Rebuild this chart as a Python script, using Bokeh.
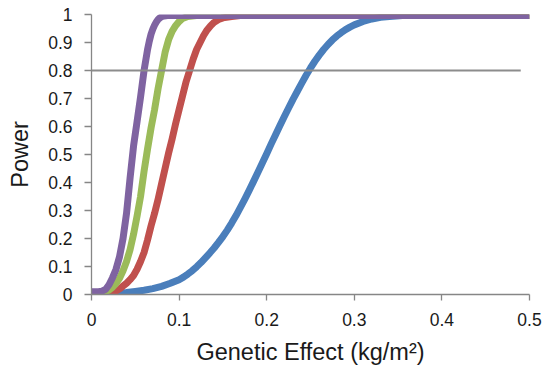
from bokeh.plotting import figure
from bokeh.models import Range1d, FixedTicker
from bokeh.embed import file_html
from bokeh.resources import INLINE

# ---- data ----
blue_x = [0.0, 0.020, 0.030, 0.040, 0.050, 0.060, 0.070, 0.080, 0.090, 0.100, 0.105, 0.110,
          0.115, 0.120, 0.125, 0.130, 0.135, 0.140, 0.145, 0.150, 0.155, 0.160, 0.165, 0.170,
          0.175, 0.180, 0.185, 0.190, 0.195, 0.200, 0.205, 0.210, 0.215, 0.220, 0.225, 0.230,
          0.235, 0.240, 0.245, 0.250, 0.255, 0.260, 0.265, 0.270, 0.275, 0.280, 0.285, 0.290,
          0.295, 0.300, 0.310, 0.320, 0.330, 0.340, 0.355, 0.5]
blue_y = [0.000, 0.000, 0.004, 0.007, 0.011, 0.015, 0.021, 0.029, 0.040, 0.053, 0.062, 0.073,
          0.085, 0.099, 0.114, 0.131, 0.148, 0.166, 0.186, 0.207, 0.230, 0.255, 0.282, 0.311,
          0.341, 0.372, 0.404, 0.437, 0.470, 0.503, 0.537, 0.570, 0.603, 0.635, 0.666, 0.697,
          0.726, 0.755, 0.783, 0.809, 0.833, 0.855, 0.875, 0.893, 0.909, 0.923, 0.935, 0.946,
          0.955, 0.963, 0.975, 0.984, 0.990, 0.993, 0.996, 0.996]

red_x = [0.0, 0.020, 0.024, 0.028, 0.032, 0.036, 0.040, 0.044, 0.048, 0.052, 0.056, 0.060, 0.064,
         0.068, 0.072, 0.076, 0.080, 0.084, 0.088, 0.092, 0.096, 0.100, 0.104, 0.108, 0.112,
         0.116, 0.120, 0.124, 0.128, 0.132, 0.136, 0.140, 0.145, 0.150, 0.160, 0.170, 0.5]
red_y = [0.0, 0.002, 0.006, 0.012, 0.020, 0.030, 0.040, 0.053, 0.068, 0.090, 0.118, 0.150, 0.195,
         0.245, 0.290, 0.340, 0.395, 0.450, 0.505, 0.555, 0.610, 0.660, 0.710, 0.760, 0.800,
         0.840, 0.875, 0.900, 0.925, 0.945, 0.960, 0.972, 0.982, 0.988, 0.993, 0.996, 0.996]

green_x = [0.0, 0.012, 0.016, 0.020, 0.024, 0.028, 0.032, 0.036, 0.040, 0.044, 0.048, 0.052,
           0.056, 0.060, 0.064, 0.068, 0.072, 0.076, 0.080, 0.084, 0.088, 0.092, 0.096, 0.100,
           0.104, 0.110, 0.120, 0.5]
green_y = [0.005, 0.006, 0.010, 0.016, 0.026, 0.040, 0.058, 0.085, 0.118, 0.160, 0.215, 0.280,
           0.350, 0.440, 0.520, 0.595, 0.660, 0.735, 0.800, 0.865, 0.910, 0.940, 0.960, 0.975,
           0.986, 0.993, 0.996, 0.996]

purple_x = [0.0, 0.008, 0.012, 0.016, 0.020, 0.024, 0.028, 0.032, 0.036, 0.040, 0.044, 0.048,
            0.052, 0.056, 0.060, 0.064, 0.066, 0.068, 0.070, 0.072, 0.074, 0.076, 0.078, 0.080,
            0.083, 0.087, 0.5]
purple_y = [0.010, 0.010, 0.012, 0.018, 0.035, 0.060, 0.090, 0.135, 0.200, 0.290, 0.415, 0.530,
            0.617, 0.705, 0.800, 0.875, 0.905, 0.930, 0.948, 0.962, 0.973, 0.982, 0.988, 0.992,
            0.995, 0.996, 0.996]

threshold_x = [0.0, 0.49]
threshold_power = 0.8

x_ticks = [0, 0.1, 0.2, 0.3, 0.4, 0.5]
x_tick_labels = ["0", "0.1", "0.2", "0.3", "0.4", "0.5"]
y_ticks = [0, 0.1, 0.2, 0.3, 0.4, 0.5, 0.6, 0.7, 0.8, 0.9, 1]
y_tick_labels = ["0", "0.1", "0.2", "0.3", "0.4", "0.5", "0.6", "0.7", "0.8", "0.9", "1"]

series = [
    (blue_x, blue_y, "#4A7EBB"),
    (red_x, red_y, "#C0504D"),
    (green_x, green_y, "#9BBB59"),
    (purple_x, purple_y, "#7F63A1"),
]

FONT = "Liberation Sans"

p = figure(width=544, height=373, output_backend="svg", toolbar_location=None,
           x_range=Range1d(0, 0.5), y_range=Range1d(0, 1),
           min_border_left=91, min_border_right=15, min_border_top=14, min_border_bottom=79)
p.outline_line_color = None
p.xgrid.visible = False
p.ygrid.visible = False
p.background_fill_color = "white"
p.border_fill_color = "white"

for xs, ys, col in series:
    p.line(xs, ys, line_color=col, line_width=7, line_join="round")

p.line(threshold_x, [threshold_power] * len(threshold_x), line_color="#8C8C8C", line_width=1.8)

p.xaxis.ticker = FixedTicker(ticks=x_ticks)
p.yaxis.ticker = FixedTicker(ticks=y_ticks)
p.xaxis.major_label_overrides = {t: l for t, l in zip(x_ticks, x_tick_labels)}
p.yaxis.major_label_overrides = {t: l for t, l in zip(y_ticks, y_tick_labels)}

for ax in (p.xaxis, p.yaxis):
    ax.axis_line_color = "#868686"
    ax.axis_line_width = 1.3
    ax.major_tick_line_color = "#868686"
    ax.major_tick_line_width = 1.3
    ax.major_tick_in = 0
    ax.minor_tick_line_color = None
    ax.major_label_text_font = FONT
    ax.major_label_text_font_size = "17.5px"
    ax.major_label_text_color = "#1A1A1A"
    ax.axis_label_text_font = FONT
    ax.axis_label_text_font_size = "23.5px"
    ax.axis_label_text_font_style = "normal"
    ax.axis_label_text_color = "#1A1A1A"

p.xaxis.major_tick_out = 6
p.yaxis.major_tick_out = 7
p.xaxis.major_label_standoff = 12
p.yaxis.major_label_standoff = 12
p.xaxis.axis_label = "Genetic Effect (kg/m²)"
p.yaxis.axis_label = "Power"
p.xaxis.axis_label_standoff = 10
p.yaxis.axis_label_standoff = 12

open("out.html", "w").write(file_html(p, INLINE))
